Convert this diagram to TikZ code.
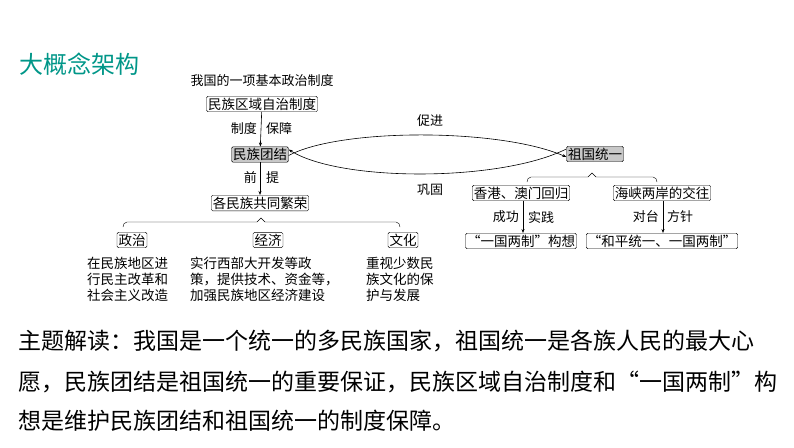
\documentclass[tikz,border=0pt]{standalone}
\usepackage{fontspec}
\setmainfont{Noto Sans CJK SC}
\usetikzlibrary{arrows.meta}
\definecolor{titlecol}{RGB}{0,150,136}
\definecolor{boxgray}{RGB}{200,200,200}
\tikzset{
  box/.style={draw, rounded corners=1.5pt, inner sep=1.5pt, font=\fontsize{13.5pt}{15pt}\selectfont},
  keybox/.style={box, fill=boxgray},
  lbl/.style={font=\fontsize{13pt}{15pt}\selectfont, inner sep=0pt},
  desc/.style={font=\fontsize{13.5pt}{16pt}\selectfont, align=left, inner sep=0pt, anchor=north west},
  arr/.style={-{Stealth[length=4pt,width=3pt]}, line width=0.6pt},
  reading/.style={anchor=west, inner sep=0, font=\fontsize{23pt}{26pt}\selectfont},
}
\begin{document}
\begin{tikzpicture}[x=1pt,y=-1pt]
\useasboundingbox (0,0) rectangle (794,447);
% title
\node[anchor=west, titlecol, font=\fontsize{24pt}{27pt}\selectfont, inner sep=0] (title) at (19,64) {大概念架构};
% left column
\node[lbl] (basic) at (262,81) {我国的一项基本政治制度};
\node[box] (zizhi) at (262,104) {民族区域自治制度};
\node[keybox] (tuanjie) at (260,154.5) {民族团结};
\node[box] (fanrong) at (260,203) {各民族共同繁荣};
\draw[arr] (zizhi) -- (tuanjie);
\node[lbl, anchor=east] (zd) at (257,129) {制度};
\node[lbl, anchor=west] (bz) at (266,129) {保障};
\draw[arr] (tuanjie) -- (fanrong);
\node[lbl, anchor=east] (qian) at (257,178) {前};
\node[lbl, anchor=west] (ti) at (266,178) {提};
\draw (123,227) to[out=90,in=180] (127,222) -- (257,222) -- (261,218) -- (265,222) -- (396,222) to[out=0,in=90] (400,227);
\node[box] (zhengzhi) at (132,240) {政治};
\node[box] (jingji) at (268,240) {经济};
\node[box] (wenhua) at (403,240) {文化};
\node[desc] (d1) at (87,257) {在民族地区进\\行民主改革和\\社会主义改造};
\node[desc] (d2) at (190,257) {实行西部大开发等政\\策，提供技术、资金等，\\加强民族地区经济建设};
\node[desc] (d3) at (366,257) {重视少数民\\族文化的保\\护与发展};
% right column
\node[keybox] (tongyi) at (595,154) {祖国统一};
\draw[arr] ([yshift=-1pt]tuanjie.east) .. controls (340,128) and (500,128) .. ([yshift=-3pt]tongyi.west);
\draw[arr] ([yshift=5pt]tongyi.west) .. controls (500,182) and (340,182) .. ([yshift=5pt]tuanjie.east);
\node[lbl] (cujin) at (430,121) {促进};
\node[lbl] (gonggu) at (430,190) {巩固};
\draw (527,182) to[out=90,in=180] (531,177) -- (588,177) -- (592,173) -- (596,177) -- (653,177) to[out=0,in=90] (657,182);
\node[box] (huigui) at (521,193) {香港、澳门回归};
\node[box] (jiaowang) at (662,193) {海峡两岸的交往};
\node[box] (gouxiang) at (521,241) {“一国两制”构想};
\node[box] (fangzhen) at (662,241) {“和平统一、一国两制”};
\draw[arr] (huigui.south) ++(2,0) -- ([xshift=2pt]gouxiang.north);
\draw[arr] (jiaowang.south) ++(1,0) -- ([xshift=1pt]fangzhen.north);
\node[lbl, anchor=east] (cg) at (519,217) {成功};
\node[lbl, anchor=west] (sj) at (528,217) {实践};
\node[lbl, anchor=east] (dt) at (659,217) {对台};
\node[lbl, anchor=west] (fz) at (667,217) {方针};
% reading
\node[reading] (r1) at (18,341) {主题解读：我国是一个统一的多民族国家，祖国统一是各族人民的最大心};
\node[reading] (r2) at (18,382) {愿，民族团结是祖国统一的重要保证，民族区域自治制度和“一国两制”构};
\node[reading] (r3) at (18,421) {想是维护民族团结和祖国统一的制度保障。};
\end{tikzpicture}
\end{document}
